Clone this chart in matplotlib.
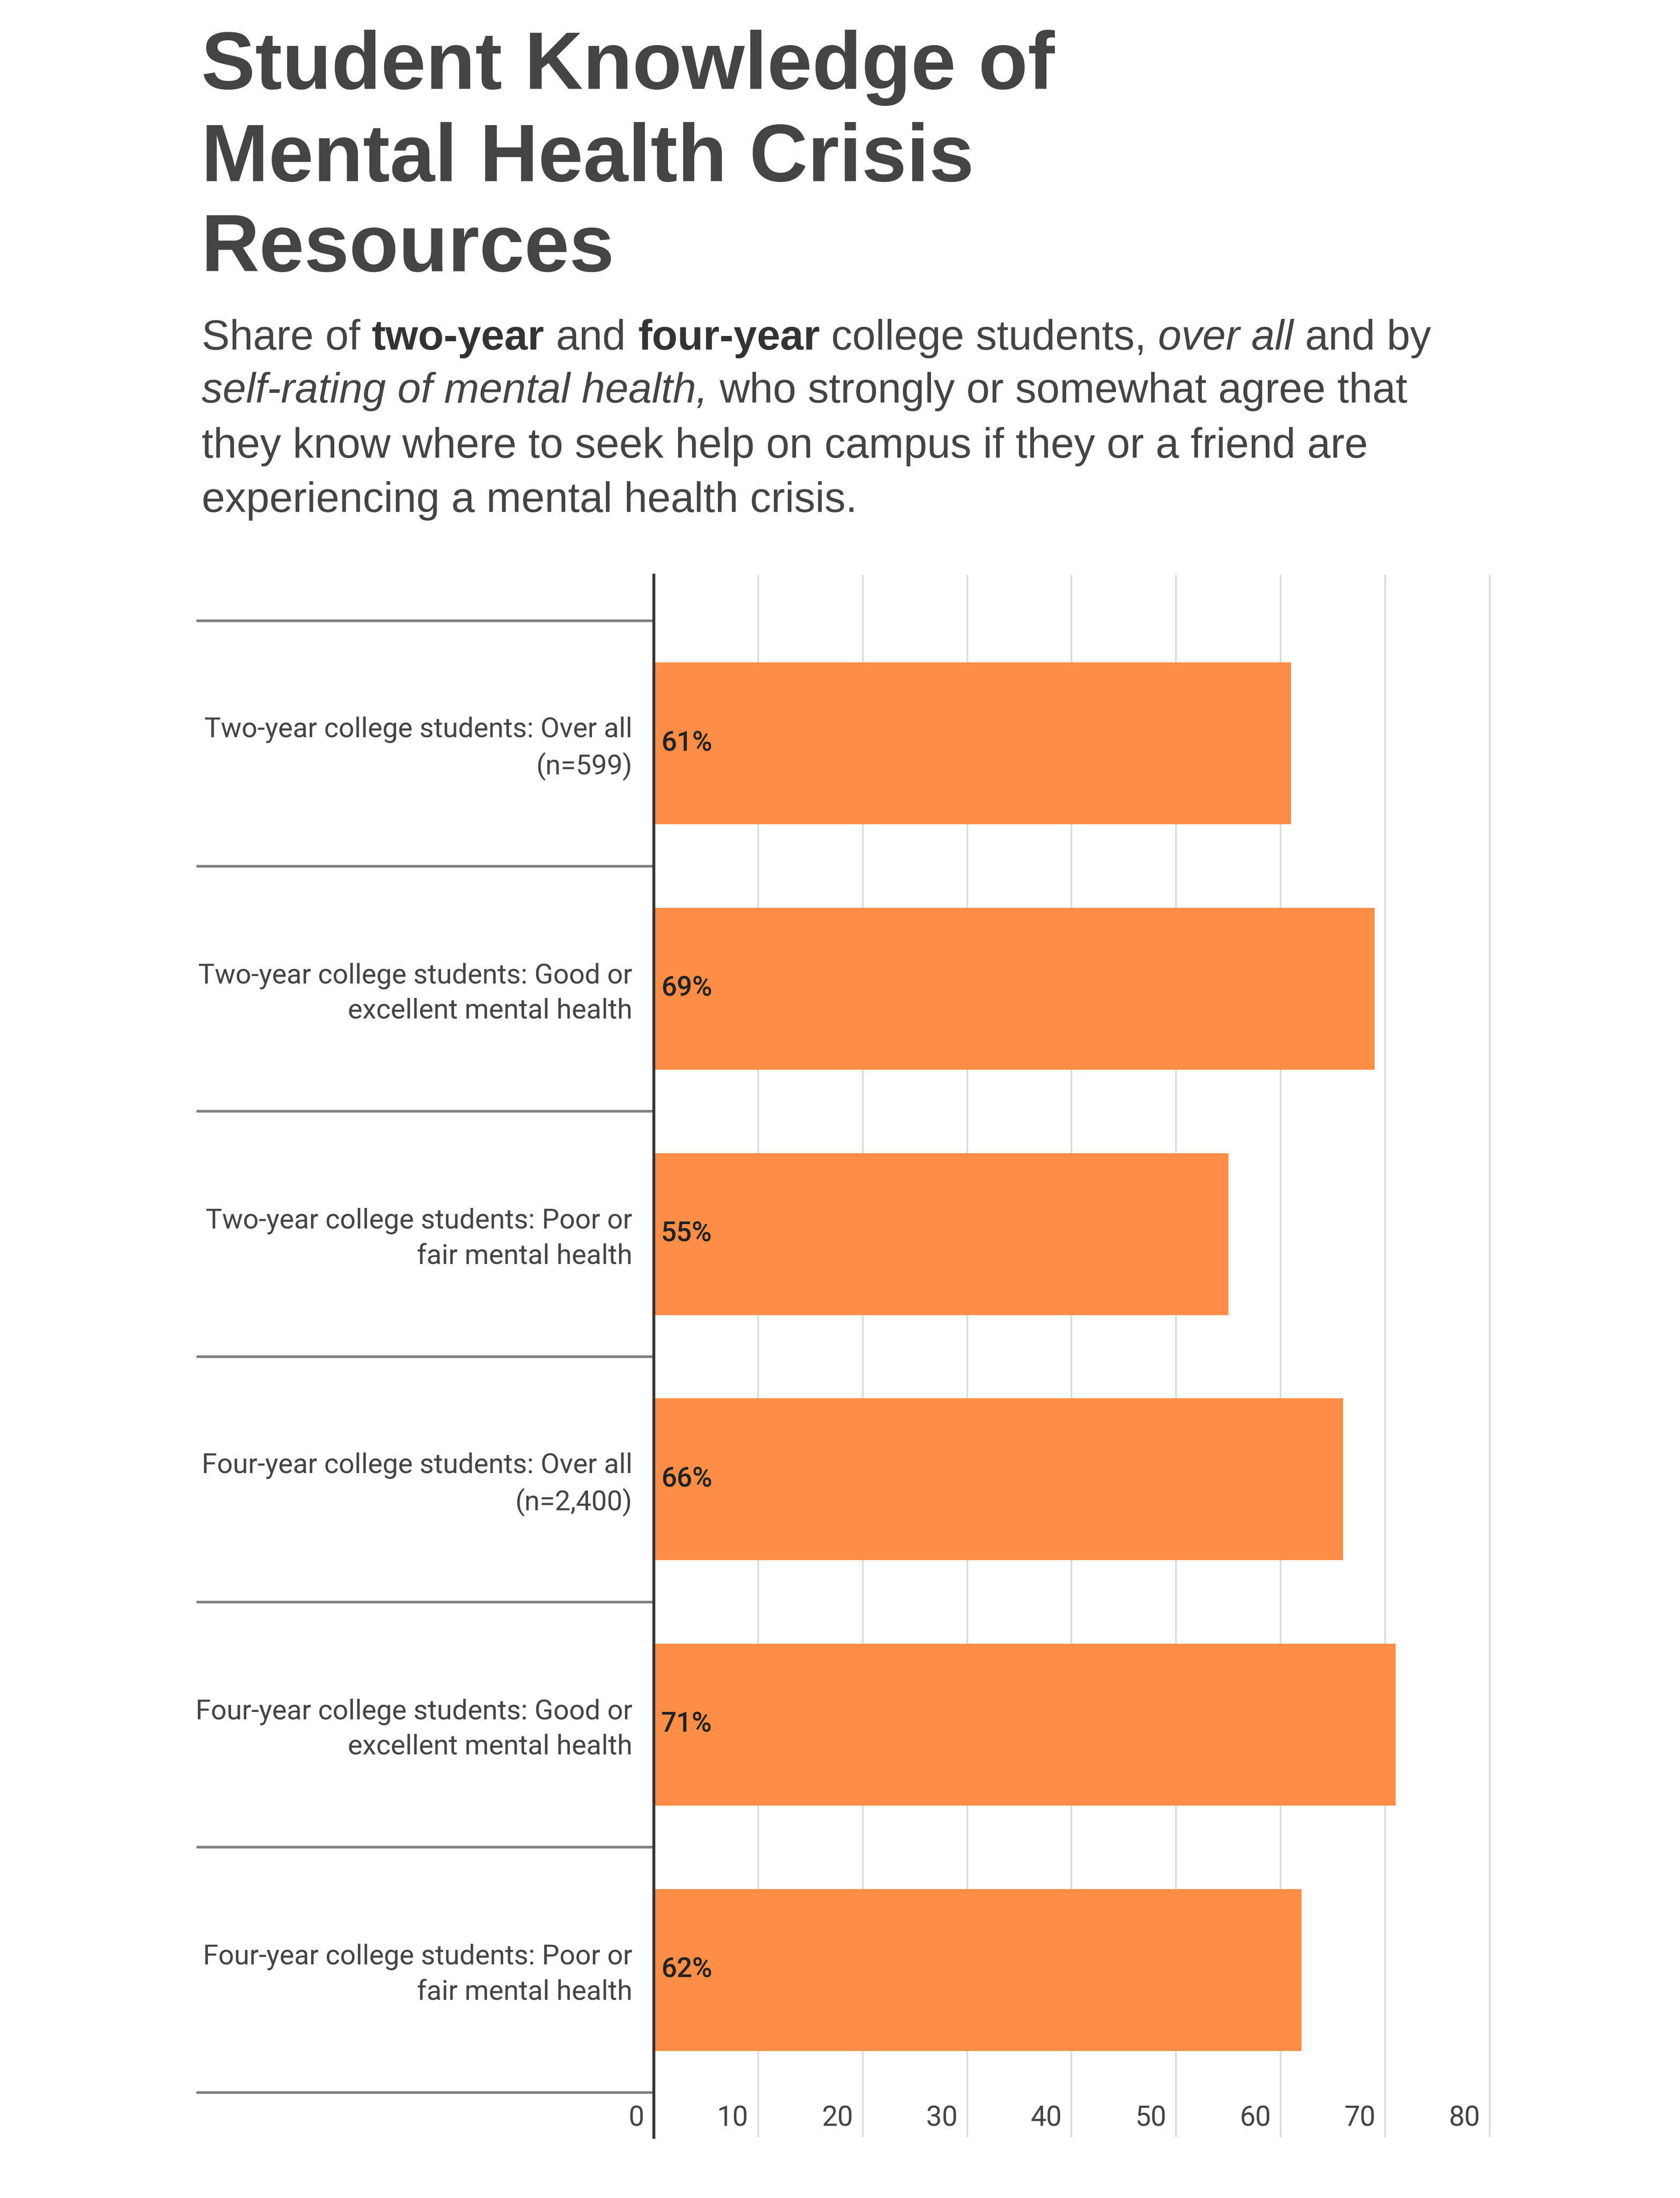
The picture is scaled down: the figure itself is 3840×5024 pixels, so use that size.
import matplotlib
matplotlib.use('Agg')
import matplotlib.pyplot as plt
import matplotlib.transforms as mtransforms

# Data
categories = [
    'Two-year college students: Over all\n(n=599)',
    'Two-year college students: Good or\nexcellent mental health',
    'Two-year college students: Poor or\nfair mental health',
    'Four-year college students: Over all\n(n=2,400)',
    'Four-year college students: Good or\nexcellent mental health',
    'Four-year college students: Poor or\nfair mental health',
]
values = [61, 69, 55, 66, 71, 62]
x_ticks = [0, 10, 20, 30, 40, 50, 60, 70, 80]

title_lines = ['Student Knowledge of', 'Mental Health Crisis', 'Resources']
subtitle_lines = [
    [('Share of ', 'normal'), ('two-year', 'bold'), (' and ', 'normal'),
     ('four-year', 'bold'), (' college students, ', 'normal'),
     ('over all', 'italic'), (' and by', 'normal')],
    [('self-rating of mental health,', 'italic'),
     (' who strongly or somewhat agree that', 'normal')],
    [('they know where to seek help on campus if they or a friend are', 'normal')],
    [('experiencing a mental health crisis.', 'normal')],
]

W, H, DPI = 3840, 5024, 100
BAR_COLOR = '#FE8E47'
TEXT_DARK = '#444444'

fig = plt.figure(figsize=(W / DPI, H / DPI), dpi=DPI)
fig.patch.set_facecolor('white')
renderer = fig.canvas.get_renderer()

# Title (one text per line, baselines measured in pixels from top)
title_size = 133
for line, base in zip(title_lines, [203, 414, 620]):
    fig.text(460 / W, 1 - base / H, line, fontsize=title_size, fontweight='bold',
             family='Liberation Sans', color=TEXT_DARK, va='baseline', ha='left')

# Subtitle with mixed bold / italic runs
sub_size = 69
space_w = 0.278 * sub_size * DPI / 72
for pieces, base in zip(subtitle_lines, [799, 920, 1046, 1170]):
    x = 461
    for txt, style in pieces:
        lead = len(txt) - len(txt.lstrip(' '))
        trail = len(txt) - len(txt.rstrip(' '))
        x += lead * space_w
        kw = dict(fontsize=sub_size, family='Liberation Sans', va='baseline', ha='left')
        if style == 'bold':
            kw.update(fontweight='bold', color='#333333')
        elif style == 'italic':
            kw.update(fontstyle='italic', color=TEXT_DARK)
        else:
            kw.update(color=TEXT_DARK)
        t = fig.text(x / W, 1 - base / H, txt.strip(), **kw)
        x += t.get_window_extent(renderer).width + trail * space_w

# Chart area
ax_left, ax_right = 1494, 3412
ax_top, ax_bottom = 1314, 4885
ax = fig.add_axes([ax_left / W, 1 - ax_bottom / H,
                   (ax_right - ax_left) / W, (ax_bottom - ax_top) / H])

y = list(range(len(categories)))
ax.barh(y, values, height=0.66, color=BAR_COLOR, zorder=2)
ax.set_xlim(0, 80.3)
ax.set_ylim(5.682, -0.687)

ax.set_xticks(x_ticks)
ax.set_xticklabels([])
ax.tick_params(axis='x', length=0)
ax.xaxis.grid(True, color='#dcdcdc', linewidth=3)
ax.set_axisbelow(True)

ax.set_yticks(y)
ax.set_yticklabels(categories, family='Roboto', fontsize=45.5, color=TEXT_DARK)
ax.tick_params(axis='y', length=0, pad=35)
for lab in ax.get_yticklabels():
    lab.set_linespacing(1.43)
    lab.set_transform(lab.get_transform() + mtransforms.Affine2D().translate(0, 6))

for s in ['top', 'right', 'bottom']:
    ax.spines[s].set_visible(False)
ax.spines['left'].set_color('#333333')
ax.spines['left'].set_linewidth(4.7)
ax.spines['left'].set_zorder(3)

# Row separators in the label column
for i in range(len(categories) + 1):
    ax.plot([-0.545, 0], [i - 0.5, i - 0.5], transform=ax.get_yaxis_transform(),
            color='#808080', linewidth=4.3, clip_on=False, solid_capstyle='butt')

# Tick numbers sit inside the plot, just left of each gridline
tick_tr = mtransforms.offset_copy(ax.get_xaxis_transform(), fig=fig, x=-22, y=44, units='dots')
for t in x_ticks:
    ax.text(t, 0, str(t), transform=tick_tr, ha='right', va='center',
            family='Roboto', fontsize=46, color=TEXT_DARK)

# Value labels at the base of each bar
lab_tr = mtransforms.offset_copy(ax.transData, fig=fig, x=17, y=0, units='dots')
for yi, v in zip(y, values):
    ax.text(0, yi, f'{v}%', transform=lab_tr, ha='left', va='center',
            family='Roboto', fontweight='medium', fontsize=45, color='#222222', zorder=4)

fig.savefig('out.png', dpi=DPI, facecolor='white')
